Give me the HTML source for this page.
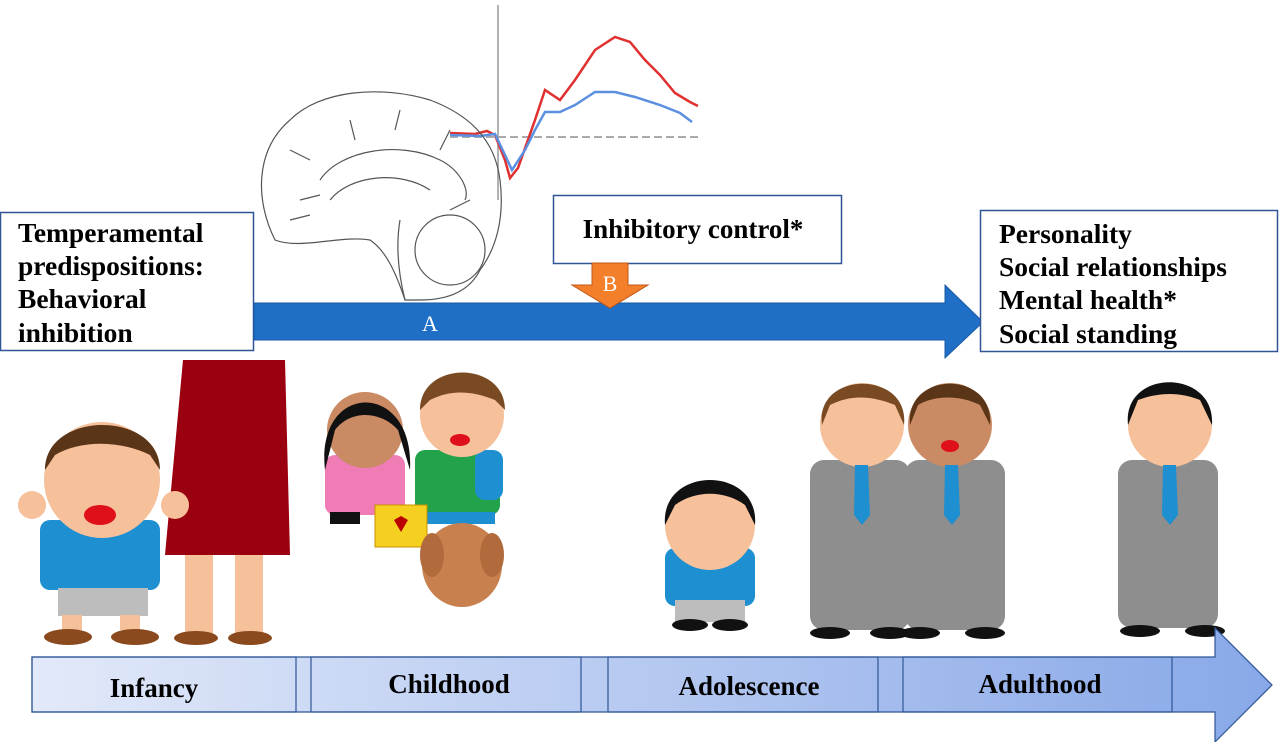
<!DOCTYPE html>
<html><head><meta charset="utf-8"><style>
html,body{margin:0;padding:0;background:#fff;}
svg{display:block;}
text{font-family:"Liberation Serif",serif;}
</style></head><body>
<svg width="1280" height="742" viewBox="0 0 1280 742" xmlns="http://www.w3.org/2000/svg">
<defs>
<linearGradient id="tl" x1="0" x2="1" y1="0" y2="0">
<stop offset="0" stop-color="#e2e9f9"/><stop offset="1" stop-color="#88a8e8"/>
</linearGradient>
</defs>
<!-- graph -->
<g fill="none" stroke-width="2.5">
<line x1="498" y1="5" x2="498" y2="200" stroke="#999" stroke-width="1.5"/>
<line x1="450" y1="137" x2="700" y2="137" stroke="#aaa" stroke-width="2" stroke-dasharray="8,4"/>
<path d="M450 133 L475 134 L487 131 L495 135 L505 160 L510 178 L518 168 L535 120 L545 90 L560 100 L575 80 L595 50 L615 37 L630 42 L645 60 L660 75 L675 93 L690 102 L698 106" stroke="#e03030"/>
<path d="M450 135 L480 136 L495 134 L505 155 L512 170 L525 150 L535 130 L545 112 L560 112 L575 105 L595 92 L615 92 L635 97 L660 105 L680 113 L692 122" stroke="#5b8fe0"/>
</g>
<!-- brain -->
<g fill="none" stroke="#555" stroke-width="1.2">
<path d="M275 240 C255 200 255 150 290 120 C320 90 380 85 430 100 C470 115 495 140 500 180 C505 220 495 250 480 270 C470 290 450 300 420 300 L405 300 C395 270 385 250 370 240 C340 235 300 250 275 240 Z"/>
<path d="M320 180 C340 150 400 140 440 160 C460 170 470 190 465 200"/>
<path d="M330 200 C350 175 400 170 430 190"/>
<path d="M290 150 L310 160 M300 200 L320 195 M350 120 L355 140 M400 110 L395 130 M450 130 L440 150 M470 200 L450 210 M290 220 L310 215"/>
<ellipse cx="450" cy="250" rx="35" ry="35"/>
<path d="M400 220 C395 250 400 280 405 300"/>
</g>
<!-- boxes -->
<rect x="0.5" y="212.5" width="253" height="138" fill="#fff" stroke="#2f5597" stroke-width="1.5"/>
<g font-weight="bold" font-size="27.5" fill="#000">
<text x="18" y="242">Temperamental</text>
<text x="18" y="275">predispositions:</text>
<text x="18" y="308">Behavioral</text>
<text x="18" y="342">inhibition</text>
</g>
<!-- blue arrow -->
<polygon points="254,303 945,303 945,285 983,322 945,358 945,340 254,340" fill="#1f6fc7" stroke="#1a5aa5"/>
<text x="430" y="331" fill="#fff" font-size="22" text-anchor="middle">A</text>
<rect x="553.5" y="195.5" width="288" height="68" fill="#fff" stroke="#2f5597" stroke-width="1.5"/>
<text x="693" y="238" font-size="27" font-weight="bold" text-anchor="middle">Inhibitory control*</text>
<polygon points="592,263 628,263 628,285 648,285 610,308 572,285 592,285" fill="#f47f2a" stroke="#c0581a"/>
<text x="610" y="291" fill="#fff" font-size="22" text-anchor="middle">B</text>
<rect x="980.5" y="210.5" width="297" height="141" fill="#fff" stroke="#2f5597" stroke-width="1.5"/>
<g font-weight="bold" font-size="27.5" fill="#000">
<text x="999" y="243">Personality</text>
<text x="999" y="276">Social relationships</text>
<text x="999" y="309">Mental health*</text>
<text x="999" y="343">Social standing</text>
</g>
<!-- people -->
<path d="M183 360 L285 360 L290 555 L165 555 Z" fill="#9b0010"/>
<rect x="185" y="555" width="28" height="80" fill="#f5c09a"/><rect x="235" y="555" width="28" height="80" fill="#f5c09a"/>
<ellipse cx="196" cy="638" rx="22" ry="7" fill="#8b4a1e"/><ellipse cx="250" cy="638" rx="22" ry="7" fill="#8b4a1e"/>
<rect x="40" y="520" width="120" height="70" rx="10" fill="#1e8fd0"/>
<rect x="58" y="588" width="90" height="28" fill="#bdbdbd"/>
<rect x="62" y="615" width="20" height="15" fill="#f5c09a"/><rect x="120" y="615" width="20" height="15" fill="#f5c09a"/>
<ellipse cx="68" cy="637" rx="24" ry="8" fill="#8b4a1e"/><ellipse cx="135" cy="637" rx="24" ry="8" fill="#8b4a1e"/>
<circle cx="102" cy="480" r="58" fill="#f5c09a"/>
<path d="M45 470 C45 410 160 410 160 470 L150 455 C120 440 80 440 55 455 Z" fill="#5a3518"/>
<ellipse cx="100" cy="515" rx="16" ry="10" fill="#e0101a"/>
<circle cx="32" cy="505" r="14" fill="#f5c09a"/><circle cx="175" cy="505" r="14" fill="#f5c09a"/>
<rect x="325" y="455" width="80" height="60" rx="10" fill="#f07cb5"/>
<circle cx="365" cy="430" r="38" fill="#c98a64"/>
<path d="M325 470 C315 380 415 380 410 470 L398 430 C380 410 350 410 335 430 Z" fill="#111"/>
<rect x="330" y="512" width="30" height="12" fill="#111"/>
<rect x="415" y="450" width="85" height="65" rx="10" fill="#22a24a"/>
<rect x="475" y="450" width="28" height="50" rx="10" fill="#1e8fd0"/>
<circle cx="462" cy="415" r="42" fill="#f5c09a"/>
<path d="M420 410 C420 360 505 360 505 410 L495 400 C470 390 450 390 430 400 Z" fill="#7a4a22"/>
<ellipse cx="460" cy="440" rx="10" ry="6" fill="#e0101a"/>
<rect x="420" y="512" width="75" height="12" fill="#1e8fd0"/>
<rect x="375" y="505" width="52" height="42" fill="#f5d020" stroke="#c89000"/>
<path d="M394 520 l7 -4 l7 4 l-7 12 z" fill="#b00"/>
<ellipse cx="462" cy="565" rx="40" ry="42" fill="#c8804e"/>
<ellipse cx="432" cy="555" rx="12" ry="22" fill="#b06a3c"/><ellipse cx="492" cy="555" rx="12" ry="22" fill="#b06a3c"/>
<rect x="665" y="548" width="90" height="58" rx="10" fill="#1e8fd0"/>
<rect x="675" y="600" width="70" height="22" fill="#bdbdbd"/>
<ellipse cx="690" cy="625" rx="18" ry="6" fill="#111"/><ellipse cx="730" cy="625" rx="18" ry="6" fill="#111"/>
<circle cx="710" cy="525" r="45" fill="#f5c09a"/>
<path d="M665 525 C660 465 760 465 755 525 L745 505 C725 490 695 490 675 505 Z" fill="#111"/>
<g>
<rect x="810" y="460" width="100" height="170" rx="14" fill="#8e8e8e"/>
<circle cx="862" cy="425" r="42" fill="#f5c09a"/>
<path d="M822 425 C815 370 910 370 904 425 L895 405 C870 395 850 395 830 405 Z" fill="#7a4a22"/>
<polygon points="855,465 868,465 870,515 862,525 854,515" fill="#1e8fd0"/>
<ellipse cx="830" cy="633" rx="20" ry="6" fill="#111"/><ellipse cx="890" cy="633" rx="20" ry="6" fill="#111"/>
</g>
<g>
<rect x="905" y="460" width="100" height="170" rx="14" fill="#8e8e8e"/>
<circle cx="950" cy="425" r="42" fill="#c98a64"/>
<path d="M910 425 C905 370 995 370 990 425 L980 405 C960 395 935 395 918 405 Z" fill="#5a3518"/>
<ellipse cx="950" cy="446" rx="9" ry="6" fill="#e0101a"/>
<polygon points="945,465 958,465 960,515 952,525 944,515" fill="#1e8fd0"/>
<ellipse cx="920" cy="633" rx="20" ry="6" fill="#111"/><ellipse cx="985" cy="633" rx="20" ry="6" fill="#111"/>
</g>
<g>
<rect x="1118" y="460" width="100" height="168" rx="14" fill="#8e8e8e"/>
<circle cx="1170" cy="425" r="42" fill="#f5c09a"/>
<path d="M1128 425 C1122 368 1216 368 1212 425 L1200 400 C1180 392 1160 392 1138 400 Z" fill="#111"/>
<polygon points="1163,465 1176,465 1178,515 1170,525 1162,515" fill="#1e8fd0"/>
<ellipse cx="1140" cy="631" rx="20" ry="6" fill="#111"/><ellipse cx="1205" cy="631" rx="20" ry="6" fill="#111"/>
</g>
<!-- timeline -->
<polygon points="32,657 1215,657 1215,628 1272,685 1215,742 1215,712 32,712" fill="url(#tl)"/>
<g fill="none" stroke="#2f5597" stroke-width="1.2">
<rect x="32" y="657" width="264" height="55"/>
<rect x="311" y="657" width="270" height="55"/>
<rect x="608" y="657" width="270" height="55"/>
<rect x="903" y="657" width="269" height="55"/>
<polygon points="32,657 1215,657 1215,628 1272,685 1215,742 1215,712 32,712"/>
</g>
<g font-weight="bold" font-size="27" text-anchor="middle">
<text x="154" y="697">Infancy</text>
<text x="449" y="693">Childhood</text>
<text x="749" y="695">Adolescence</text>
<text x="1040" y="693">Adulthood</text>
</g>
</svg>
</body></html>
